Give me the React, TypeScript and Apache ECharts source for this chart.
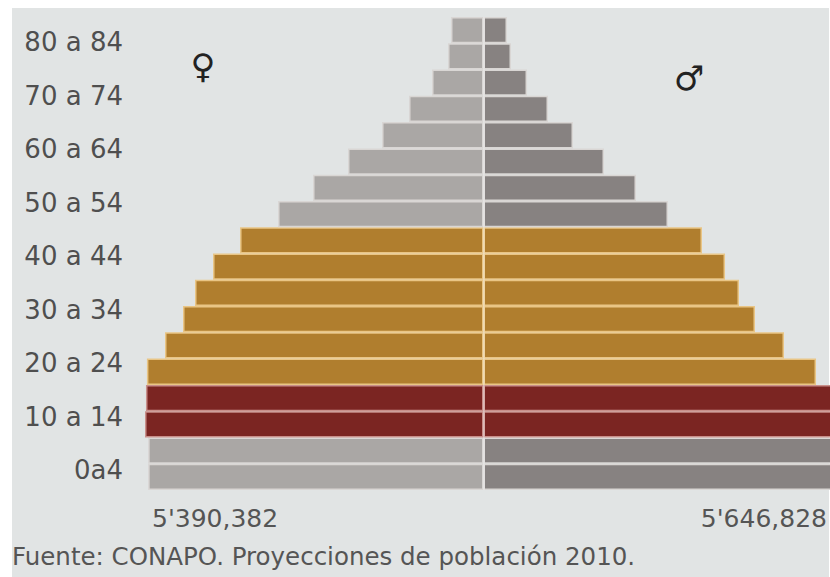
import React, { useEffect, useRef } from "react";
import * as echarts from "echarts";

// Age groups, bottom to top
const ageGroups = [
  "0-4", "5-9", "10-14", "15-19", "20-24", "25-29", "30-34", "35-39", "40-44",
  "45-49", "50-54", "55-59", "60-64", "65-69", "70-74", "75-79", "80-84", "85+",
];
// Labels shown at the side, bottom to top
const sideLabels = ["0a4", "10 a 14", "20 a 24", "30 a 34", "40 a 44", "50 a 54", "60 a 64", "70 a 74", "80 a 84"];
// Colour group for each age group
const groupOf = [
  "gray", "gray", "red", "red", "gold", "gold", "gold", "gold", "gold",
  "gold", "gray", "gray", "gray", "gray", "gray", "gray", "gray", "gray",
];
const femaleValues = [
  5340000, 5340000, 5390382, 5375000, 5360000, 5072000, 4785000, 4594000, 4307000,
  3877000, 3272000, 2715000, 2158000, 1616000, 1186000, 820000, 565000, 518000,
];
const maleValues = [
  5580000, 5610000, 5646828, 5600000, 5295000, 4785000, 4323000, 4068000, 3846000,
  3479000, 2938000, 2428000, 1919000, 1425000, 1027000, 693000, 438000, 374000,
];
const extremeLabels = ["5'390,382", "5'646,828"];
const sourceText = "Fuente: CONAPO. Proyecciones de población 2010.";

const femaleColors: Record<string, string> = { gray: "#aaa7a5", red: "#7b2522", gold: "#b07e2e" };
const maleColors: Record<string, string> = { gray: "#878281", red: "#7b2522", gold: "#b07e2e" };
const borderColors: Record<string, string> = { gray: "#d9d6d4", red: "#c98f8a", gold: "#e9c585" };

const FONT = "DejaVu Sans";

export default function App() {
  const ref = useRef<HTMLDivElement>(null);
  useEffect(() => {
    document.body.style.margin = "0";
    const chart = echarts.init(ref.current!, undefined, { renderer: "svg" });
    const mk = (vals: number[], colors: Record<string, string>, sign: number) =>
      vals.map((v, i) => ({
        value: sign * v,
        itemStyle: { color: colors[groupOf[i]], borderColor: borderColors[groupOf[i]] },
      }));
    chart.setOption({
      animation: false,
      backgroundColor: "#ffffff",
      grid: [
        { left: 144.4, width: 697.05, top: 17, bottom: 87 },
        { left: 131, width: 10, top: 15.25, height: 481.5 },
      ],
      xAxis: [
        { type: "value", gridIndex: 0, min: -5400000, max: 5700000, show: false },
        { type: "value", gridIndex: 1, show: false },
      ],
      yAxis: [
        { type: "category", gridIndex: 0, data: ageGroups, show: false },
        {
          type: "category",
          gridIndex: 1,
          data: sideLabels,
          axisLine: { show: false },
          axisTick: { show: false },
          splitLine: { show: false },
          axisLabel: { color: "#4f4f4f", fontSize: 26, fontFamily: FONT, margin: 8, interval: 0 },
        },
      ],
      graphic: [
        { type: "rect", z: -10, shape: { x: 12, y: 8, width: 817, height: 569 }, style: { fill: "#e1e4e4" } },
        { type: "text", x: 203, y: 66, style: { text: "♀", font: `bold 34px ${FONT}`, fill: "#222", align: "center", verticalAlign: "middle" } },
        { type: "text", x: 689, y: 78, style: { text: "♂", font: `bold 34px ${FONT}`, fill: "#222", align: "center", verticalAlign: "middle" } },
        { type: "text", x: 152, y: 518, style: { text: extremeLabels[0], font: `25px ${FONT}`, fill: "#555", align: "left", verticalAlign: "middle" } },
        { type: "text", x: 827, y: 518, style: { text: extremeLabels[1], font: `25px ${FONT}`, fill: "#555", align: "right", verticalAlign: "middle" } },
        { type: "text", x: 12, y: 556, style: { text: sourceText, font: `24.5px ${FONT}`, fill: "#555", align: "left", verticalAlign: "middle" } },
      ],
      series: [
        {
          type: "bar",
          name: "Mujeres",
          xAxisIndex: 0,
          yAxisIndex: 0,
          data: mk(femaleValues, femaleColors, -1),
          barCategoryGap: "0%",
          barGap: "-100%",
          itemStyle: { borderWidth: 1.5 },
        },
        {
          type: "bar",
          name: "Hombres",
          xAxisIndex: 0,
          yAxisIndex: 0,
          data: mk(maleValues, maleColors, 1),
          barCategoryGap: "0%",
          barGap: "-100%",
          itemStyle: { borderWidth: 1.5 },
          markLine: {
            silent: true,
            symbol: "none",
            label: { show: false },
            lineStyle: { color: "rgba(255,255,255,0.35)", width: 1.5, type: "solid" },
            data: [{ xAxis: 0 }],
          },
        },
      ],
    });
    return () => chart.dispose();
  }, []);
  return (
    <div style={{ width: 830, height: 577, overflow: "hidden", position: "relative" }}>
      <div ref={ref} style={{ width: 850, height: 577 }} />
    </div>
  );
}
